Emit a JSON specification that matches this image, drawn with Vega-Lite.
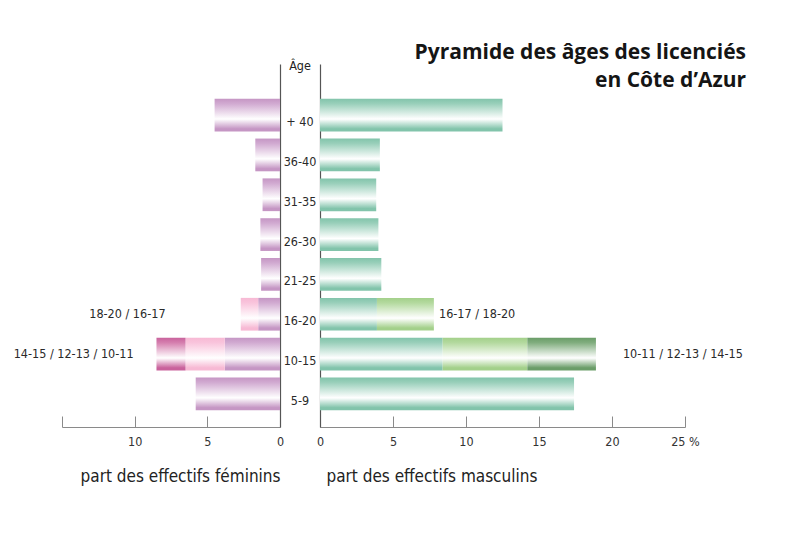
{
  "$schema": "https://vega.github.io/schema/vega-lite/v6.json",
  "background": "white",
  "padding": {"left": 13, "top": 42, "right": 5, "bottom": 5},
  "spacing": 0,
  "bounds": "flush",
  "datasets": {
    "bars": [
      {"sex": "F", "age": "+ 40", "seg": "tous", "col": "base", "ord": 1, "value": 4.5},
      {"sex": "F", "age": "36-40", "seg": "tous", "col": "base", "ord": 1, "value": 1.7},
      {"sex": "F", "age": "31-35", "seg": "tous", "col": "base", "ord": 1, "value": 1.2},
      {"sex": "F", "age": "26-30", "seg": "tous", "col": "base", "ord": 1, "value": 1.35},
      {"sex": "F", "age": "21-25", "seg": "tous", "col": "base", "ord": 1, "value": 1.3},
      {"sex": "F", "age": "16-20", "seg": "16-17", "col": "base", "ord": 1, "value": 1.5},
      {"sex": "F", "age": "16-20", "seg": "18-20", "col": "light", "ord": 2, "value": 1.2},
      {"sex": "F", "age": "10-15", "seg": "10-11", "col": "base", "ord": 1, "value": 3.8},
      {"sex": "F", "age": "10-15", "seg": "12-13", "col": "light", "ord": 2, "value": 2.7},
      {"sex": "F", "age": "10-15", "seg": "14-15", "col": "dark", "ord": 3, "value": 2.0},
      {"sex": "F", "age": "5-9", "seg": "tous", "col": "base", "ord": 1, "value": 5.8},
      {"sex": "M", "age": "+ 40", "seg": "tous", "col": "base", "ord": 1, "value": 12.5},
      {"sex": "M", "age": "36-40", "seg": "tous", "col": "base", "ord": 1, "value": 4.1},
      {"sex": "M", "age": "31-35", "seg": "tous", "col": "base", "ord": 1, "value": 3.85},
      {"sex": "M", "age": "26-30", "seg": "tous", "col": "base", "ord": 1, "value": 4.0},
      {"sex": "M", "age": "21-25", "seg": "tous", "col": "base", "ord": 1, "value": 4.2},
      {"sex": "M", "age": "16-20", "seg": "16-17", "col": "base", "ord": 1, "value": 3.9},
      {"sex": "M", "age": "16-20", "seg": "18-20", "col": "light", "ord": 2, "value": 3.9},
      {"sex": "M", "age": "10-15", "seg": "10-11", "col": "base", "ord": 1, "value": 8.4},
      {"sex": "M", "age": "10-15", "seg": "12-13", "col": "light", "ord": 2, "value": 5.8},
      {"sex": "M", "age": "10-15", "seg": "14-15", "col": "dark", "ord": 3, "value": 4.7},
      {"sex": "M", "age": "5-9", "seg": "tous", "col": "base", "ord": 1, "value": 17.4}
    ],
    "notes": [
      {"sex": "F", "age": "16-20", "pos": 10.5, "label": "18-20 / 16-17"},
      {"sex": "F", "age": "10-15", "pos": 14.2, "label": "14-15 / 12-13 / 10-11"},
      {"sex": "M", "age": "16-20", "pos": 8.15, "label": "16-17 / 18-20"},
      {"sex": "M", "age": "10-15", "pos": 20.75, "label": "10-11  / 12-13 / 14-15"}
    ],
    "ages": [
      {"age": "+ 40"}, {"age": "36-40"}, {"age": "31-35"}, {"age": "26-30"},
      {"age": "21-25"}, {"age": "16-20"}, {"age": "10-15"}, {"age": "5-9"}
    ]
  },
  "hconcat": [
    {
      "width": 218,
      "height": 363,
      "layer": [
        {
          "data": {"name": "bars"},
          "transform": [{"filter": "datum.sex === 'F'"}],
          "mark": {"type": "bar", "strokeWidth": 0},
          "encoding": {
            "y": {"field": "age", "type": "nominal", "sort": ["+ 40", "36-40", "31-35", "26-30", "21-25", "16-20", "10-15", "5-9"],
              "scale": {"type": "band", "paddingInner": 0.178, "paddingOuter": 0.646, "align": 0.675},
              "axis": {"orient": "right", "labels": false, "ticks": false, "title": null, "domainColor": "#555", "domainWidth": 1.2}},
            "x": {"field": "value", "type": "quantitative", "stack": "zero",
              "scale": {"domain": [0, 15], "reverse": true, "nice": false},
              "axis": {"values": [0, 5, 10, 15], "tickSize": -11, "labelPadding": 19, "labelFlush": false,
                "labelExpr": "datum.value == 15 ? '' : datum.label",
                "title": "part des effectifs féminins", "titleX": 218, "titleY": 49, "titleAlign": "right", "titleBaseline": "middle", "titleAnchor": null}},
            "order": {"field": "ord", "type": "quantitative"},
            "fill": {
              "condition": [
                {"test": "datum.col === 'light'", "value": {"gradient": "linear", "x1": 0, "y1": 0, "x2": 0, "y2": 1, "stops": [{"offset": 0, "color": "#f7b9d4"}, {"offset": 0.15, "color": "#f9c4dc"}, {"offset": 0.62, "color": "#ffffff"}, {"offset": 0.92, "color": "#f7b9d4"}, {"offset": 1, "color": "#f7b9d4"}]}},
                {"test": "datum.col === 'dark'", "value": {"gradient": "linear", "x1": 0, "y1": 0, "x2": 0, "y2": 1, "stops": [{"offset": 0, "color": "#c9629c"}, {"offset": 0.15, "color": "#d57eae"}, {"offset": 0.62, "color": "#ffffff"}, {"offset": 0.92, "color": "#c9629c"}, {"offset": 1, "color": "#c9629c"}]}}
              ],
              "value": {"gradient": "linear", "x1": 0, "y1": 0, "x2": 0, "y2": 1, "stops": [{"offset": 0, "color": "#c596c4"}, {"offset": 0.15, "color": "#d1aad1"}, {"offset": 0.62, "color": "#ffffff"}, {"offset": 0.92, "color": "#c596c4"}, {"offset": 1, "color": "#c596c4"}]}
            }
          }
        },
        {
          "data": {"name": "notes"},
          "transform": [{"filter": "datum.sex === 'F'"}],
          "mark": {"type": "text", "align": "center", "baseline": "middle", "fontSize": 12.5, "color": "#2a2a2a", "font": "DejaVu Sans Condensed"},
          "encoding": {
            "y": {"field": "age", "type": "nominal", "sort": ["+ 40", "36-40", "31-35", "26-30", "21-25", "16-20", "10-15", "5-9"]},
            "x": {"field": "pos", "type": "quantitative"},
            "text": {"field": "label"}
          }
        }
      ]
    },
    {
      "width": 40,
      "height": 363,
      "title": {"text": "Âge", "fontSize": 12.5, "fontWeight": "normal", "color": "#222", "offset": -8, "font": "DejaVu Sans Condensed"},
      "data": {"name": "ages"},
      "mark": {"type": "text", "align": "center", "baseline": "middle", "dy": 7, "fontSize": 12.5, "color": "#2a2a2a", "font": "DejaVu Sans Condensed"},
      "encoding": {
        "y": {"field": "age", "type": "nominal", "sort": ["+ 40", "36-40", "31-35", "26-30", "21-25", "16-20", "10-15", "5-9"],
          "scale": {"type": "band", "paddingInner": 0.178, "paddingOuter": 0.646, "align": 0.675}, "axis": null},
        "text": {"field": "age"}
      }
    },
    {
      "width": 365,
      "height": 363,
      "title": {"text": ["Pyramide des âges des licenciés", "en Côte d’Azur"], "frame": "group", "anchor": "end", "orient": "top", "offset": -27, "dx": 61, "lineHeight": 28, "fontSize": 21, "fontWeight": "bold", "color": "#151515", "font": "Open Sans"},
      "layer": [
        {
          "data": {"name": "bars"},
          "transform": [{"filter": "datum.sex === 'M'"}],
          "mark": {"type": "bar", "strokeWidth": 0},
          "encoding": {
            "y": {"field": "age", "type": "nominal", "sort": ["+ 40", "36-40", "31-35", "26-30", "21-25", "16-20", "10-15", "5-9"],
              "scale": {"type": "band", "paddingInner": 0.178, "paddingOuter": 0.646, "align": 0.675},
              "axis": {"orient": "left", "labels": false, "ticks": false, "title": null, "domainColor": "#555", "domainWidth": 1.2}},
            "x": {"field": "value", "type": "quantitative", "stack": "zero",
              "scale": {"domain": [0, 25], "nice": false},
              "axis": {"values": [0, 5, 10, 15, 20, 25], "tickSize": -11, "labelPadding": 19, "labelFlush": false,
                "labelExpr": "datum.value == 25 ? '25 %' : datum.label",
                "title": "part des effectifs masculins", "titleX": 6, "titleY": 49, "titleAlign": "left", "titleBaseline": "middle", "titleAnchor": null}},
            "order": {"field": "ord", "type": "quantitative"},
            "fill": {
              "condition": [
                {"test": "datum.col === 'light'", "value": {"gradient": "linear", "x1": 0, "y1": 0, "x2": 0, "y2": 1, "stops": [{"offset": 0, "color": "#a3d08a"}, {"offset": 0.15, "color": "#b3d99e"}, {"offset": 0.62, "color": "#ffffff"}, {"offset": 0.92, "color": "#a3d08a"}, {"offset": 1, "color": "#a3d08a"}]}},
                {"test": "datum.col === 'dark'", "value": {"gradient": "linear", "x1": 0, "y1": 0, "x2": 0, "y2": 1, "stops": [{"offset": 0, "color": "#6a9d68"}, {"offset": 0.15, "color": "#80ad7e"}, {"offset": 0.62, "color": "#ffffff"}, {"offset": 0.92, "color": "#6a9d68"}, {"offset": 1, "color": "#6a9d68"}]}}
              ],
              "value": {"gradient": "linear", "x1": 0, "y1": 0, "x2": 0, "y2": 1, "stops": [{"offset": 0, "color": "#82c4ab"}, {"offset": 0.15, "color": "#99cfba"}, {"offset": 0.62, "color": "#ffffff"}, {"offset": 0.92, "color": "#82c4ab"}, {"offset": 1, "color": "#82c4ab"}]}
            }
          }
        },
        {
          "data": {"name": "notes"},
          "transform": [{"filter": "datum.sex === 'M'"}],
          "mark": {"type": "text", "align": "left", "baseline": "middle", "fontSize": 12.5, "color": "#2a2a2a", "font": "DejaVu Sans Condensed"},
          "encoding": {
            "y": {"field": "age", "type": "nominal", "sort": ["+ 40", "36-40", "31-35", "26-30", "21-25", "16-20", "10-15", "5-9"]},
            "x": {"field": "pos", "type": "quantitative"},
            "text": {"field": "label"}
          }
        }
      ]
    }
  ],
  "config": {
    "view": {"stroke": null},
    "axis": {"grid": false, "domainColor": "#8a8a8a", "tickColor": "#8a8a8a", "labelFont": "DejaVu Sans Condensed", "labelFontSize": 12.5, "labelColor": "#333", "titleFont": "DejaVu Sans Condensed", "titleFontSize": 17, "titleFontWeight": "normal", "titleColor": "#222"}
  }
}
